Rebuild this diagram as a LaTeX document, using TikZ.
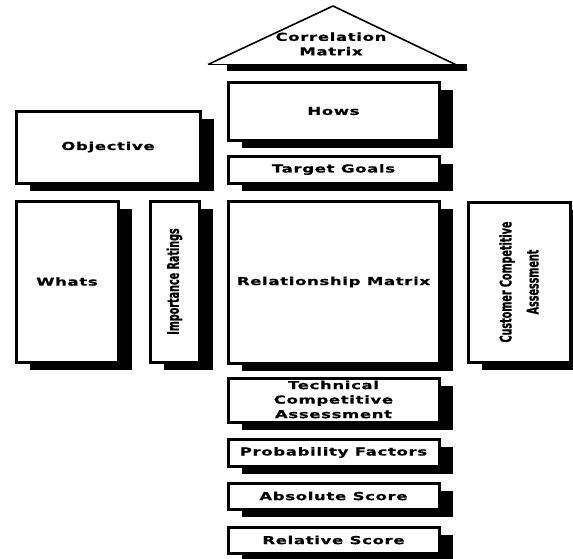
\documentclass[tikz,border=0pt]{standalone}
\usepackage{fontspec}
\usetikzlibrary{shadows}
\newfontfamily\qfont{DejaVu Sans}[FakeStretch=1.5,LetterSpace=6,FakeBold=0.6]
\newfontfamily\rfont{DejaVu Sans}[FakeStretch=0.6,FakeBold=1]
\begin{document}
\begin{tikzpicture}[x=1pt,y=-1pt,
  qbox/.style={draw, line width=3pt, fill=white, inner sep=0pt, anchor=north west,
    align=center, font=\qfont\bfseries\fontsize{11}{15}\selectfont,
    drop shadow={shadow xshift=14pt, shadow yshift=-8pt, fill=black, opacity=1}},
  vtext/.style={font=\rfont\bfseries\fontsize{16}{27}\selectfont, rotate=90, align=center, inner sep=0pt},
  roof/.style={line width=1.6pt, line join=round},
  label/.style={font=\qfont\bfseries\fontsize{11}{14.5}\selectfont, align=center, inner sep=0pt}]
\useasboundingbox (0,0) rectangle (573,558);
\fill[white] (0,0) rectangle (573,558);

% roof with the correlation matrix
\coordinate (roofL) at (208,64.5);
\coordinate (roofT) at (333,6);
\coordinate (roofR) at (467,70);
\coordinate (eaveL) at (227,64);
\coordinate (eaveR) at (467,71);
\fill[black] (eaveL) rectangle (eaveR);
\draw[roof] (roofL) -- (roofT) -- (roofR);
\draw[line width=1.6pt] (roofL) -- (eaveL |- roofL);
\node[label] (corr) at (331,44) {Correlation\\Matrix};

% central column
\node[qbox, minimum width=211, minimum height=58] (hows) at (226.5,80.5) {Hows};
\node[qbox, minimum width=211, minimum height=27] (goals) at (226.5,154.5) {Target Goals};
\node[qbox, minimum width=211, minimum height=162] (rel) at (226.5,199.5) {Relationship Matrix};
\node[qbox, minimum width=211, minimum height=44] (tech) at (226.5,376.5) {};
\node[label] (techt) at ([yshift=0.5pt]tech.center) {Technical\\Competitive\\Assessment};
\node[qbox, minimum width=211, minimum height=27] (prob) at (226.5,437.5) {Probability Factors};
\node[qbox, minimum width=211, minimum height=26] (abs) at (226.5,481.5) {Absolute Score};
\node[qbox, minimum width=211, minimum height=26] (relsc) at (226.5,525.5) {Relative Score};

% left side
\node[qbox, minimum width=184, minimum height=72] (obj) at (14.5,109.5) {Objective};
\node[qbox, minimum width=102, minimum height=161] (whats) at (14.5,199.5) {Whats};
\node[qbox, minimum width=49, minimum height=161] (imp) at (148.5,199.5) {};
\node[vtext] (impt) at (imp.center) {Importance Ratings};

% right side
\node[qbox, minimum width=102, minimum height=160] (cust) at (466.5,200.5) {};
\node[vtext] (custt) at (cust.center) {Customer Competitive\\Assessment};
\end{tikzpicture}
\end{document}
